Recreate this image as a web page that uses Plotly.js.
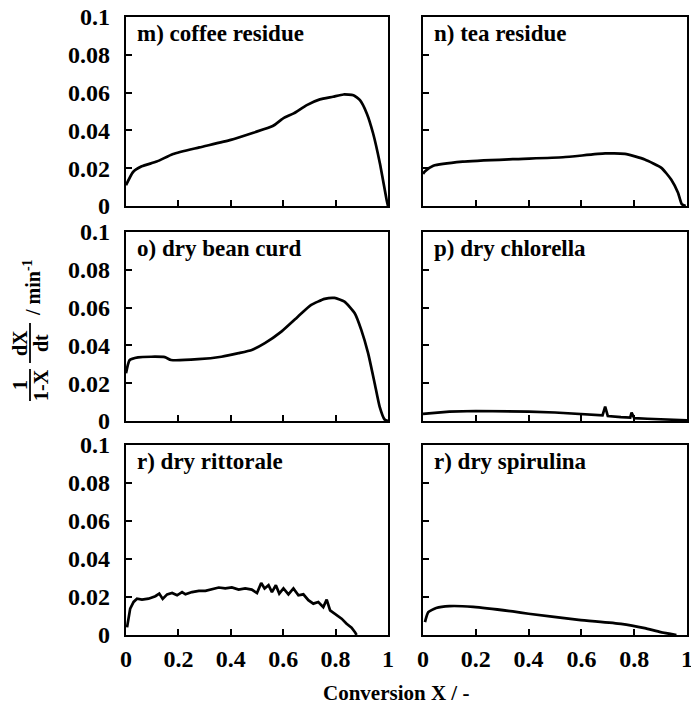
<!DOCTYPE html>
<html>
<head>
<meta charset="utf-8">
<script src="https://cdn.plot.ly/plotly-3.0.1.min.js"></script>
<style>html,body{margin:0;padding:0;background:#fff;}#chart{width:691px;height:710px;}</style>
</head>
<body>
<div id="chart"></div>
<script>
// ---- data ----
const panelLabels = ["m) coffee residue", "n) tea residue", "o) dry bean curd", "p) dry chlorella", "r) dry rittorale", "r) dry spirulina"];

const coffeeX = [0, 0.027, 0.06, 0.117, 0.18, 0.28, 0.40, 0.486, 0.56, 0.60, 0.64, 0.69, 0.74, 0.79, 0.83, 0.868, 0.893, 0.919, 0.943, 0.969, 0.995, 1.0];
const coffeeY = [0.011, 0.018, 0.021, 0.0235, 0.0275, 0.031, 0.035, 0.0388, 0.0423, 0.0464, 0.049, 0.0534, 0.0564, 0.0578, 0.059, 0.0586, 0.056, 0.049, 0.0385, 0.0226, 0.003, 0];

const teaX = [0, 0.008, 0.039, 0.15, 0.34, 0.53, 0.69, 0.765, 0.84, 0.903, 0.94, 0.966, 0.98, 0.995];
const teaY = [0.017, 0.0184, 0.0213, 0.0235, 0.0248, 0.0258, 0.0278, 0.0276, 0.0246, 0.0202, 0.014, 0.007, 0.001, 0];

const beanX = [0, 0.014, 0.046, 0.097, 0.148, 0.172, 0.275, 0.364, 0.43, 0.48, 0.53, 0.593, 0.656, 0.707, 0.758, 0.796, 0.834, 0.873, 0.898, 0.924, 0.949, 0.968, 0.987, 1];
const beanY = [0.0253, 0.0323, 0.0337, 0.034, 0.0338, 0.0323, 0.0327, 0.034, 0.0359, 0.0376, 0.0412, 0.0473, 0.0552, 0.0614, 0.0646, 0.0651, 0.0632, 0.057, 0.0482, 0.0359, 0.02, 0.0076, 0.0008, 0];

const chlorellaX = [0, 0.05, 0.1, 0.2, 0.3, 0.4, 0.5, 0.6, 0.68, 0.69, 0.70, 0.75, 0.785, 0.79, 0.80, 0.85, 0.9, 1.0];
const chlorellaY = [0.0038, 0.0045, 0.005, 0.0053, 0.0053, 0.005, 0.0045, 0.0036, 0.003, 0.0076, 0.0026, 0.002, 0.0018, 0.0045, 0.0015, 0.0012, 0.0009, 0.0004];

const rittoraleX = [0.004, 0.008, 0.016, 0.029, 0.042, 0.061, 0.086, 0.112, 0.127, 0.14, 0.157, 0.176, 0.195, 0.214, 0.227, 0.252, 0.278, 0.303, 0.328, 0.354, 0.379, 0.404, 0.43, 0.455, 0.48, 0.5, 0.516, 0.529, 0.544, 0.557, 0.572, 0.585, 0.601, 0.62, 0.639, 0.658, 0.677, 0.696, 0.715, 0.734, 0.753, 0.766, 0.779, 0.798, 0.823, 0.842, 0.861, 0.874, 0.88];
const rittoraleY = [0.004, 0.0077, 0.0139, 0.0174, 0.0191, 0.0186, 0.0191, 0.0204, 0.0218, 0.019, 0.0214, 0.0221, 0.0209, 0.0226, 0.0214, 0.0226, 0.0232, 0.0232, 0.0239, 0.025, 0.0245, 0.025, 0.0239, 0.0245, 0.0239, 0.0221, 0.0274, 0.0245, 0.0262, 0.0226, 0.0262, 0.0218, 0.0245, 0.0214, 0.0245, 0.0209, 0.0214, 0.0183, 0.0165, 0.0174, 0.0147, 0.0186, 0.013, 0.0112, 0.0086, 0.0059, 0.0038, 0.0015, 0];

const spirulinaX = [0.0075, 0.02, 0.05, 0.10, 0.19, 0.34, 0.40, 0.59, 0.75, 0.84, 0.90, 0.96];
const spirulinaY = [0.0068, 0.012, 0.0142, 0.0152, 0.0148, 0.0124, 0.0112, 0.008, 0.0059, 0.0036, 0.0015, 0];

const xTickVals = [0, 0.2, 0.4, 0.6, 0.8, 1];
const yTickVals = [0, 0.02, 0.04, 0.06, 0.08, 0.1];
const xTitle = "Conversion X / -";

// ---- layout helpers ----
const W = 691, H = 710;
const px = v => v / W;
const py = v => 1 - v / H;
const colDom = [[px(126), px(388)], [px(423), px(687)]];
const rowDom = [[py(206), py(17)], [py(421), py(232)], [py(635), py(445)]];
const serif = "Liberation Serif, Times New Roman, serif";

const series = [[coffeeX, coffeeY, true], [teaX, teaY, true], [beanX, beanY, true],
                [chlorellaX, chlorellaY, false], [rittoraleX, rittoraleY, false], [spirulinaX, spirulinaY, true]];

const data = [];
const layout = {
  width: W, height: H, margin: {l: 0, r: 0, t: 0, b: 0},
  paper_bgcolor: "#fff", plot_bgcolor: "#fff", showlegend: false,
  annotations: [], shapes: []
};

series.forEach((s, i) => {
  const n = i + 1;
  const row = Math.floor(i / 2), col = i % 2;
  const xa = n === 1 ? "x" : "x" + n, ya = n === 1 ? "y" : "y" + n;
  data.push({
    x: s[0], y: s[1], xaxis: xa, yaxis: ya, type: "scatter", mode: "lines",
    line: {color: "#000", width: 2.7, shape: s[2] ? "spline" : "linear", smoothing: 0.5},
    cliponaxis: false, hoverinfo: "skip"
  });
  const axBase = {
    showline: true, linecolor: "#000", linewidth: 2.2, mirror: true,
    ticks: "inside", ticklen: 6, tickwidth: 2, tickcolor: "#000",
    showgrid: false, zeroline: false, fixedrange: true, ticklabeloverflow: "allow",
    tickfont: {family: serif, size: 24, color: "#000", weight: "bold"}
  };
  layout["xaxis" + (n === 1 ? "" : n)] = Object.assign({}, axBase, {
    domain: colDom[col], range: [0, 1], anchor: ya,
    tickvals: xTickVals, showticklabels: row === 2, ticklabelstandoff: 1
  });
  layout["yaxis" + (n === 1 ? "" : n)] = Object.assign({}, axBase, {
    domain: rowDom[row], range: [0, 0.1], anchor: xa,
    tickvals: yTickVals, showticklabels: col === 0, ticklabelstandoff: 9
  });
  layout.annotations.push({
    xref: xa + " domain", yref: ya + " domain", x: 0.035, y: 0.99,
    xanchor: "left", yanchor: "top", showarrow: false, text: panelLabels[i],
    font: {family: serif, size: 23, color: "#000", weight: "bold"}
  });
});

// x-axis title
layout.annotations.push({
  xref: "paper", yref: "paper", x: px(396), y: py(693), xanchor: "center", yanchor: "middle",
  showarrow: false, text: xTitle, font: {family: serif, size: 21, color: "#000", weight: "bold"}
});

// y-axis title built as rotated fractions
const yFont = {family: serif, size: 20, color: "#000", weight: "bold"};
function rot(text, x, y) {
  layout.annotations.push({xref: "paper", yref: "paper", x: px(x), y: py(y), xanchor: "center", yanchor: "middle",
    showarrow: false, textangle: -90, text: text, font: yFont});
}
rot("1", 20, 385);
rot("1-X", 41, 385);
rot("dX", 20, 343);
rot("dt", 41, 343);
rot("/ min<sup>-1</sup>", 32, 287);
layout.shapes.push({type: "line", xref: "paper", yref: "paper", x0: px(30), x1: px(30), y0: py(369), y1: py(401), line: {color: "#000", width: 1.8}});
layout.shapes.push({type: "line", xref: "paper", yref: "paper", x0: px(30), x1: px(30), y0: py(323), y1: py(363), line: {color: "#000", width: 1.8}});

Plotly.newPlot("chart", data, layout, {staticPlot: true, displayModeBar: false});
</script>
</body>
</html>
